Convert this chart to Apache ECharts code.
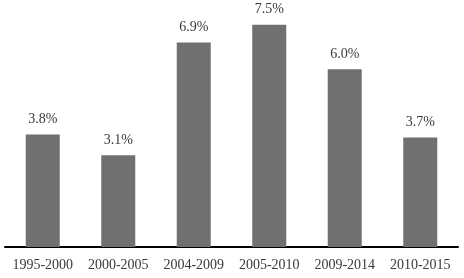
<!DOCTYPE html>
<html>
<head>
<meta charset="utf-8">
<script src="https://cdn.jsdelivr.net/npm/echarts@6/dist/echarts.min.js"></script>
<style>
  html, body { margin: 0; padding: 0; background: #fff; }
  #chart { width: 464px; height: 278px; }
</style>
</head>
<body>
<div id="chart"></div>
<script>
const periods = ['1995-2000', '2000-2005', '2004-2009', '2005-2010', '2009-2014', '2010-2015'];
const growth = [3.8, 3.1, 6.9, 7.5, 6.0, 3.7];

const chart = echarts.init(document.getElementById('chart'));
chart.setOption({
  animation: false,
  grid: { left: 5, right: 6, top: 10, bottom: 31 },
  xAxis: {
    type: 'category',
    data: periods,
    axisLine: { show: true, lineStyle: { color: '#000', width: 2 } },
    axisTick: { show: false },
    axisLabel: {
      interval: 0,
      color: '#3a3a3a',
      fontFamily: 'Liberation Serif',
      fontSize: 14,
      margin: 11
    }
  },
  yAxis: {
    type: 'value',
    min: 0,
    max: 8,
    show: false,
    splitLine: { show: false }
  },
  series: [{
    type: 'bar',
    data: growth,
    barWidth: 34,
    itemStyle: { color: '#707070' },
    label: {
      show: true,
      position: 'top',
      distance: 8,
      color: '#3a3a3a',
      fontFamily: 'Liberation Serif',
      fontSize: 14,
      formatter: (p) => p.value.toFixed(1) + '%'
    }
  }]
});
</script>
</body>
</html>
